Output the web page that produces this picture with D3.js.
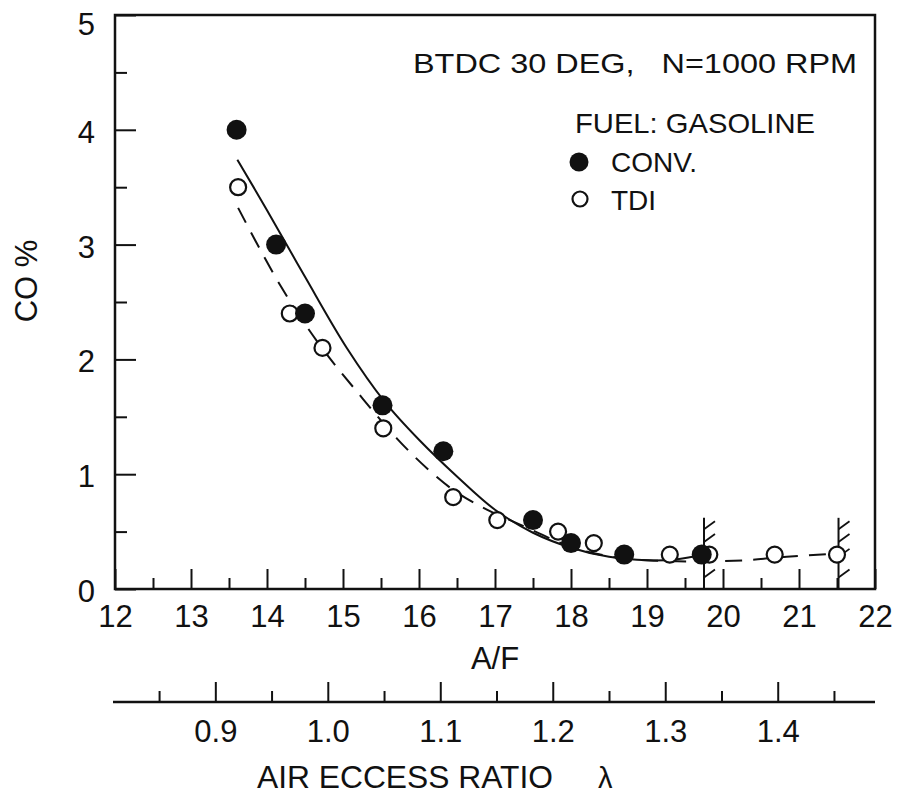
<!DOCTYPE html>
<html>
<head>
<meta charset="utf-8">
<script src="https://cdn.jsdelivr.net/npm/d3@7"></script>
<style>
  html, body { margin: 0; padding: 0; background: #fff; }
  svg { display: block; }
  text { font-family: "Liberation Sans", Arial, sans-serif; fill: #111; }
</style>
</head>
<body>
<svg id="chart" width="901" height="799"></svg>
<script>
// ---------- data ----------
const convAF = [13.6, 14.12, 14.5, 15.52, 16.32, 17.5, 18.0, 18.7, 19.72];
const convCO = [4.0, 3.0, 2.4, 1.6, 1.2, 0.6, 0.4, 0.3, 0.3];

const tdiAF = [13.62, 14.3, 14.73, 15.53, 16.45, 17.03, 17.83, 18.3, 19.3, 19.82, 20.68, 21.5];
const tdiCO = [3.5, 2.4, 2.1, 1.4, 0.8, 0.6, 0.5, 0.4, 0.3, 0.3, 0.3, 0.3];

// fitted curves
const convFitAF = [13.61, 14.0, 14.5, 15.05, 15.55, 16.0, 16.5, 17.0, 17.5, 18.0, 18.5, 19.0, 19.4, 19.74];
const convFitCO = [3.74, 3.30, 2.72, 2.10, 1.63, 1.30, 0.98, 0.69, 0.49, 0.36, 0.28, 0.25, 0.26, 0.30];

const tdiFitAF = [13.62, 14.17, 14.70, 15.22, 15.71, 16.14, 16.5, 16.9, 17.3, 18.03, 18.55, 19.0, 19.7, 20.29, 20.84, 21.51];
const tdiFitCO = [3.32, 2.65, 2.12, 1.69, 1.31, 1.03, 0.84, 0.69, 0.57, 0.36, 0.28, 0.25, 0.24, 0.25, 0.28, 0.31];

// lean-limit markers (hatched)
const limitAF = [19.75, 21.52];

// axis ticks
const afMajor = [12, 13, 14, 15, 16, 17, 18, 19, 20, 21, 22];
const afMinor = [12.5, 13.5, 14.5, 15.5, 16.5, 17.5, 18.5, 19.5, 20.5, 21.5];
const coMajor = [0, 1, 2, 3, 4, 5];
const coMinor = [0.5, 1.5, 2.5, 3.5, 4.5];
const lamMajor = [0.9, 1.0, 1.1, 1.2, 1.3, 1.4];
const lamMinor = [0.85, 0.95, 1.05, 1.15, 1.25, 1.35, 1.45];
const stoich = 14.8;

const titleText = "BTDC 30 DEG,   N=1000 RPM";
const fuelText = "FUEL: GASOLINE";
const seriesNames = ["CONV.", "TDI"];

// ---------- layout ----------
const L = 115, R = 875, T = 15, B = 589;
const svg = d3.select("#chart");

const x = d3.scaleLinear().domain([12, 22]).range([L, R]);
const y = d3.scaleLinear().domain([0, 5]).range([B, T]);
const lam = d3.scaleLinear().domain([12 / stoich, 22 / stoich]).range([L, R]);

function styleAxis(g) {
  g.select(".domain").remove();
  g.selectAll(".tick line").attr("stroke", "#111").attr("stroke-width", 2);
  g.selectAll(".tick text").attr("font-size", 31).attr("fill", "#111")
    .attr("font-family", "Liberation Sans, Arial, sans-serif");
}

// X axis (A/F)
svg.append("g").attr("transform", `translate(0,${B})`)
  .call(d3.axisBottom(x).tickValues(afMinor).tickSizeInner(-11).tickSizeOuter(0).tickFormat(""))
  .call(styleAxis);
svg.append("g").attr("transform", `translate(0,${B})`)
  .call(d3.axisBottom(x).tickValues(afMajor).tickSizeInner(-20).tickSizeOuter(0).tickPadding(16).tickFormat(d3.format("d")))
  .call(styleAxis);

// Y axis (CO %)
svg.append("g").attr("transform", `translate(${L},0)`)
  .call(d3.axisLeft(y).tickValues(coMinor).tickSizeInner(-12).tickSizeOuter(0).tickFormat(""))
  .call(styleAxis);
svg.append("g").attr("transform", `translate(${L},0)`)
  .call(d3.axisLeft(y).tickValues(coMajor).tickSizeInner(-21).tickSizeOuter(0).tickPadding(20).tickFormat(d3.format("d")))
  .call(styleAxis)
  .call(g => g.selectAll(".tick text").attr("dy", d => d === 5 ? "0.62em" : "0.4em"));

// frame
svg.append("rect").attr("x", L).attr("y", T).attr("width", R - L).attr("height", B - T)
  .attr("fill", "none").attr("stroke", "#111").attr("stroke-width", 2.5);

// Lambda axis
const LY = 702;
svg.append("line").attr("x1", 113).attr("x2", R).attr("y1", LY).attr("y2", LY)
  .attr("stroke", "#111").attr("stroke-width", 2.5);
svg.append("g").attr("transform", `translate(0,${LY})`)
  .call(d3.axisBottom(lam).tickValues(lamMinor).tickSizeInner(-11).tickSizeOuter(0).tickFormat(""))
  .call(styleAxis);
svg.append("g").attr("transform", `translate(0,${LY})`)
  .call(d3.axisBottom(lam).tickValues(lamMajor).tickSizeInner(-20).tickSizeOuter(0).tickPadding(18).tickFormat(d3.format(".1f")))
  .call(styleAxis);

// axis titles
svg.append("text").attr("x", 495).attr("y", 669).attr("text-anchor", "middle")
  .attr("font-size", 31).text("A/F");
svg.append("text").attr("transform", "translate(37,281) rotate(-90)").attr("text-anchor", "middle")
  .attr("font-size", 31).text("CO %");
svg.append("text").attr("x", 257).attr("y", 788).attr("font-size", 31)
  .attr("textLength", 296).attr("lengthAdjust", "spacingAndGlyphs").text("AIR ECCESS RATIO");
svg.append("text").attr("x", 598).attr("y", 788).attr("font-size", 29).text("λ");

// curves
const line = d3.line().x(d => x(d[0])).y(d => y(d[1])).curve(d3.curveCatmullRom.alpha(0.5));
svg.append("path").datum(tdiFitAF.map((a, i) => [a, tdiFitCO[i]]))
  .attr("d", line).attr("fill", "none").attr("stroke", "#111").attr("stroke-width", 2)
  .attr("stroke-dasharray", "17,11");
svg.append("path").datum(convFitAF.map((a, i) => [a, convFitCO[i]]))
  .attr("d", line).attr("fill", "none").attr("stroke", "#111").attr("stroke-width", 2);

// lean-limit hatches
const hatchCO = [0.52, 0.41, 0.28, 0.10];
limitAF.forEach(a => {
  const g = svg.append("g");
  g.append("line").attr("x1", x(a)).attr("x2", x(a)).attr("y1", y(0)).attr("y2", y(0.62))
    .attr("stroke", "#111").attr("stroke-width", 2);
  hatchCO.forEach(c => {
    g.append("line").attr("x1", x(a)).attr("y1", y(c)).attr("x2", x(a) + 11).attr("y2", y(c) - 8)
      .attr("stroke", "#111").attr("stroke-width", 1.8);
  });
});

// points
svg.append("g").selectAll("circle").data(tdiAF.map((a, i) => [a, tdiCO[i]])).join("circle")
  .attr("cx", d => x(d[0])).attr("cy", d => y(d[1])).attr("r", 8)
  .attr("fill", "#fff").attr("stroke", "#111").attr("stroke-width", 2.2);
svg.append("g").selectAll("circle").data(convAF.map((a, i) => [a, convCO[i]])).join("circle")
  .attr("cx", d => x(d[0])).attr("cy", d => y(d[1])).attr("r", 10)
  .attr("fill", "#111");

// annotations / legend
svg.append("text").attr("x", 413).attr("y", 73).attr("font-size", 28)
  .attr("textLength", 444).attr("lengthAdjust", "spacingAndGlyphs")
  .style("white-space", "pre").text(titleText);
svg.append("text").attr("x", 575).attr("y", 133).attr("font-size", 28)
  .attr("textLength", 240).attr("lengthAdjust", "spacingAndGlyphs").text(fuelText);
svg.append("circle").attr("cx", 579).attr("cy", 162).attr("r", 9.5).attr("fill", "#111");
svg.append("text").attr("x", 611).attr("y", 172).attr("font-size", 28).text(seriesNames[0]);
svg.append("circle").attr("cx", 580).attr("cy", 199).attr("r", 7.5).attr("fill", "#fff")
  .attr("stroke", "#111").attr("stroke-width", 2.2);
svg.append("text").attr("x", 611).attr("y", 210).attr("font-size", 28).text(seriesNames[1]);
</script>
</body>
</html>
